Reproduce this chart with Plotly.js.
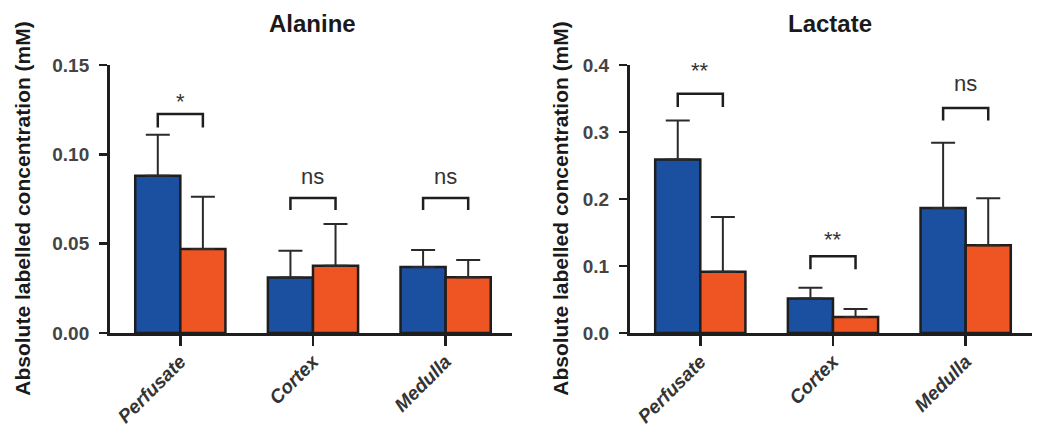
<!DOCTYPE html>
<html>
<head>
<meta charset="utf-8">
<script src="https://cdn.plot.ly/plotly-3.0.1.min.js"></script>
<style>html,body{margin:0;padding:0;background:#fff;}#chart{width:1037px;height:426px;}</style>
</head>
<body>
<div id="chart"></div>
<script>
// ---- data ----
var categories = ['Perfusate', 'Cortex', 'Medulla'];

var alanineBlue = [0.088, 0.031, 0.037];
var alanineBlueErr = [0.023, 0.015, 0.0095];
var alanineOrange = [0.047, 0.0377, 0.0312];
var alanineOrangeErr = [0.0293, 0.0233, 0.0097];
var alanineSig = ['*', 'ns', 'ns'];
var alanineBracketTop = [0.1226, 0.0756, 0.0756];
var alanineBracketLeg = [0.115, 0.0688, 0.0688];
var alanineSigY = [0.1293, 0.0877, 0.0877];

var lactateBlue = [0.259, 0.0515, 0.1865];
var lactateBlueErr = [0.058, 0.016, 0.0975];
var lactateOrange = [0.0915, 0.024, 0.131];
var lactateOrangeErr = [0.0815, 0.012, 0.070];
var lactateSig = ['**', '**', 'ns'];
var lactateBracketTop = [0.357, 0.1145, 0.336];
var lactateBracketLeg = [0.3375, 0.095, 0.317];
var lactateSigY = [0.392, 0.139, 0.372];

var yTitle = 'Absolute labelled concentration (mM)';

// ---- styling ----
var BLUE = '#1b4f9f';
var ORANGE = '#ef5522';
var INK = '#1e1e1e';
var FONT = 'Liberation Sans, Arial, sans-serif';
var BARGAP = 0.32;
var half = (1 - BARGAP) / 4; // centre offset of each bar in a 2-bar group

function zeros(n) { var a = []; for (var i = 0; i < n; i++) a.push(0); return a; }

function barTrace(vals, errs, color, xa, ya) {
  return {
    type: 'bar', x: categories, y: vals, xaxis: xa, yaxis: ya,
    marker: { color: color, line: { color: INK, width: 2.5 } },
    error_y: { type: 'data', symmetric: false, array: errs, arrayminus: zeros(errs.length),
               color: '#2a2a2a', thickness: 2, width: 12 },
    showlegend: false, hoverinfo: 'y'
  };
}

var data = [
  barTrace(alanineBlue, alanineBlueErr, BLUE, 'x', 'y'),
  barTrace(alanineOrange, alanineOrangeErr, ORANGE, 'x', 'y'),
  barTrace(lactateBlue, lactateBlueErr, BLUE, 'x2', 'y2'),
  barTrace(lactateOrange, lactateOrangeErr, ORANGE, 'x2', 'y2')
];

var shapes = [];
var annotations = [];
function addSig(top, leg, labels, labY, xr, yr) {
  for (var i = 0; i < categories.length; i++) {
    var x0 = i - half, x1 = i + half;
    shapes.push({ type: 'path', xref: xr, yref: yr,
      path: 'M' + x0 + ',' + leg[i] + ' L' + x0 + ',' + top[i] + ' L' + x1 + ',' + top[i] + ' L' + x1 + ',' + leg[i],
      line: { color: INK, width: 2.5 } });
    annotations.push({ xref: xr, yref: yr, x: i, y: labY[i], text: labels[i], showarrow: false,
      yanchor: 'middle', xanchor: 'center', font: { family: FONT, size: 22, color: '#333' } });
  }
}
addSig(alanineBracketTop, alanineBracketLeg, alanineSig, alanineSigY, 'x', 'y');
addSig(lactateBracketTop, lactateBracketLeg, lactateSig, lactateSigY, 'x2', 'y2');

// panel titles
annotations.push({ xref: 'paper', yref: 'paper', x: 0.3009, y: 0.9437, text: '<b>Alanine</b>', showarrow: false,
  xanchor: 'center', yanchor: 'middle', font: { family: FONT, size: 24, color: '#1a1a1a' } });
annotations.push({ xref: 'paper', yref: 'paper', x: 0.8004, y: 0.9437, text: '<b>Lactate</b>', showarrow: false,
  xanchor: 'center', yanchor: 'middle', font: { family: FONT, size: 24, color: '#1a1a1a' } });
// y titles
annotations.push({ xref: 'paper', yref: 'paper', x: 0.0222, y: 0.51, text: '<b>' + yTitle + '</b>', showarrow: false,
  textangle: -90, xanchor: 'center', yanchor: 'middle', font: { family: FONT, size: 21, color: '#1a1a1a' } });
annotations.push({ xref: 'paper', yref: 'paper', x: 0.541, y: 0.51, text: '<b>' + yTitle + '</b>', showarrow: false,
  textangle: -90, xanchor: 'center', yanchor: 'middle', font: { family: FONT, size: 21, color: '#1a1a1a' } });

function xAxis(domain, anchor) {
  return { domain: domain, anchor: anchor, type: 'category', range: [-0.53, 2.5],
    showline: true, linewidth: 3, linecolor: INK, mirror: false,
    ticks: 'outside', ticklen: 10, tickwidth: 2.5, tickcolor: INK, ticklabelstandoff: -3,
    tickangle: -45, tickfont: { family: FONT, size: 19, color: '#333', weight: 'bold', style: 'italic' },
    showgrid: false, zeroline: false, automargin: false, fixedrange: true };
}
function yAxis(domain, anchor, range, dtick, fmt) {
  return { domain: domain, anchor: anchor, range: range, dtick: dtick, tick0: 0, tickformat: fmt,
    showline: true, linewidth: 3, linecolor: INK,
    ticks: 'outside', ticklen: 8, tickwidth: 2.5, tickcolor: INK, ticklabelstandoff: 6,
    tickfont: { family: FONT, size: 19, color: '#444', weight: 'bold' },
    showgrid: false, zeroline: false, automargin: false, fixedrange: true };
}

var yDom = [0.2183, 0.8474];
var layout = {
  width: 1037, height: 426,
  margin: { l: 0, r: 0, t: 0, b: 0, pad: 0 },
  paper_bgcolor: '#fff', plot_bgcolor: '#fff',
  barmode: 'group', bargap: BARGAP, bargroupgap: 0,
  font: { family: FONT },
  xaxis: xAxis([0.1061, 0.4937], 'y'),
  yaxis: yAxis(yDom, 'x', [0, 0.15], 0.05, '.2f'),
  xaxis2: xAxis([0.6075, 0.9952], 'y2'),
  yaxis2: yAxis(yDom, 'x2', [0, 0.4], 0.1, '.1f'),
  shapes: shapes,
  annotations: annotations,
  showlegend: false
};

Plotly.newPlot('chart', data, layout, { displayModeBar: false, staticPlot: true });
</script>
</body>
</html>
